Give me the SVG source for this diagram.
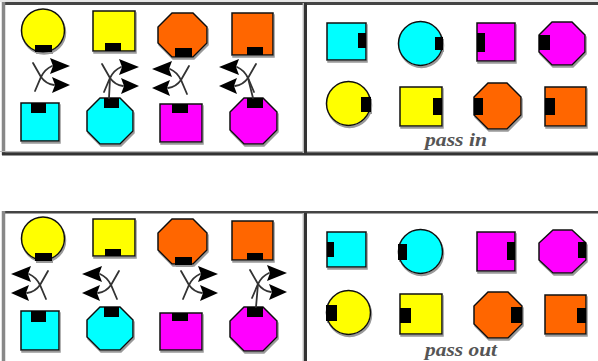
<svg xmlns="http://www.w3.org/2000/svg" width="598" height="361" viewBox="0 0 598 361">
<style>
.y{fill:#ffff00}.o{fill:#ff6600}.c{fill:#00ffff}.m{fill:#ff00ff}
.s{stroke:#111;stroke-width:1.5}
.tab{fill:#000}
.node{filter:url(#sh)}
.ln{fill:none;stroke:#333;stroke-width:1.8;stroke-linecap:round}
.ah{fill:#000}
.lbl{font-family:"Liberation Serif",serif;font-style:italic;font-weight:bold;font-size:19px;fill:#555}
</style>
<defs>
<filter id="sh" x="-20%" y="-20%" width="140%" height="140%">
<feDropShadow dx="1" dy="2" stdDeviation="0.4" flood-color="#999"/>
</filter>
<g id="split">
<path class="ln" d="M-8,-14 L0,0 Q5,7 13,8"/>
<path class="ln" d="M-6,14 L0,0 Q4,-8 11,-11"/>
<polygon class="ah" points="29,-11 9,-19 12,-11 9,-3"/>
<polygon class="ah" points="29,8 11,0 14,8 11,16"/>
</g>
</defs>
<rect width="598" height="361" fill="#fff"/>

<g id="frames">
<line x1="0" y1="1" x2="598" y2="1" stroke="#ccc" stroke-width="1"/>
<line x1="2" y1="3.5" x2="598" y2="3.5" stroke="#444" stroke-width="3"/>
<line x1="3.5" y1="2" x2="3.5" y2="155" stroke="#888" stroke-width="3.5"/>
<line x1="0" y1="151.5" x2="598" y2="151.5" stroke="#bbb" stroke-width="1"/>
<line x1="2" y1="153.8" x2="598" y2="153.8" stroke="#333" stroke-width="3.2"/>
<line x1="303.3" y1="3" x2="303.3" y2="153" stroke="#bbb" stroke-width="1.4"/>
<line x1="305.5" y1="3" x2="305.5" y2="154" stroke="#333" stroke-width="3"/>

<line x1="2" y1="212.2" x2="598" y2="212.2" stroke="#444" stroke-width="2.6"/>
<line x1="3.5" y1="211" x2="3.5" y2="361" stroke="#888" stroke-width="3.5"/>
<line x1="303.3" y1="213" x2="303.3" y2="361" stroke="#bbb" stroke-width="1.4"/>
<line x1="305.5" y1="213" x2="305.5" y2="361" stroke="#333" stroke-width="3"/>
</g>

<!-- top panel, left -->
<g id="tl-yellow-circle" class="node"><circle class="y s" cx="43" cy="30.5" r="21.5"/><rect class="tab" x="35" y="45" width="17" height="7"/></g>
<g id="tl-yellow-square" class="node"><rect class="y s" x="93" y="11" width="42" height="40"/><rect class="tab" x="105" y="43" width="16" height="8"/></g>
<g id="tl-orange-oct" class="node"><polygon class="o s" points="172,13 193,13 207,27 207,43 193,57 172,57 158,43 158,27"/><rect class="tab" x="175" y="48" width="17" height="9"/></g>
<g id="tl-orange-square" class="node"><rect class="o s" x="232" y="13" width="41" height="42"/><rect class="tab" x="247" y="47" width="16" height="8"/></g>
<g id="tl-cyan-square" class="node"><rect class="c s" x="21" y="103" width="38" height="38"/><rect class="tab" x="31" y="103" width="15" height="10"/></g>
<g id="tl-cyan-oct" class="node"><polygon class="c s" points="100,98 120,98 133,111 133,131 120,144 100,144 87,131 87,111"/><rect class="tab" x="104" y="98" width="15" height="10"/></g>
<g id="tl-magenta-square" class="node"><rect class="m s" x="160" y="104" width="42" height="38"/><rect class="tab" x="172" y="104" width="16" height="9"/></g>
<g id="tl-magenta-oct" class="node"><polygon class="m s" points="244,98 263,98 277,112 277,130 263,144 244,144 230,130 230,112"/><rect class="tab" x="247" y="98" width="16" height="10"/></g>

<!-- top panel, right -->
<g id="tr-cyan-square" class="node"><rect class="c s" x="327" y="23" width="39" height="37"/><rect class="tab" x="358" y="33" width="8" height="15"/></g>
<g id="tr-cyan-circle" class="node"><circle class="c s" cx="420.5" cy="43.5" r="22"/><rect class="tab" x="435" y="37" width="8" height="13"/></g>
<g id="tr-magenta-square" class="node"><rect class="m s" x="477" y="23" width="38" height="38"/><rect class="tab" x="477" y="33" width="8" height="19"/></g>
<g id="tr-magenta-oct" class="node"><polygon class="m s" points="552,22 572,22 585,35 585,52 572,65 552,65 539,52 539,35"/><rect class="tab" x="539" y="35" width="11" height="15"/></g>
<g id="tr-yellow-circle" class="node"><circle class="y s" cx="348.5" cy="103.5" r="22"/><rect class="tab" x="361" y="97" width="10" height="15"/></g>
<g id="tr-yellow-square" class="node"><rect class="y s" x="400" y="87" width="42" height="39"/><rect class="tab" x="433" y="98" width="9" height="17"/></g>
<g id="tr-orange-oct" class="node"><polygon class="o s" points="488,83 507,83 521,97 521,115 507,129 488,129 474,115 474,97"/><rect class="tab" x="474" y="98" width="9" height="17"/></g>
<g id="tr-orange-square" class="node"><rect class="o s" x="545" y="87" width="41" height="39"/><rect class="tab" x="545" y="98" width="10" height="17"/></g>
<text class="lbl" x="425" y="146" textLength="62" lengthAdjust="spacingAndGlyphs">pass in</text>

<!-- bottom panel, left -->
<g id="bl-yellow-circle" class="node"><circle class="y s" cx="43" cy="238.5" r="21.5"/><rect class="tab" x="35" y="253" width="17" height="8"/></g>
<g id="bl-yellow-square" class="node"><rect class="y s" x="93" y="219" width="42" height="37"/><rect class="tab" x="105" y="249" width="16" height="7"/></g>
<g id="bl-orange-oct" class="node"><polygon class="o s" points="172,219 193,219 207,233 207,250 193,264 172,264 158,250 158,233"/><rect class="tab" x="175" y="257" width="17" height="8"/></g>
<g id="bl-orange-square" class="node"><rect class="o s" x="232" y="221" width="41" height="39"/><rect class="tab" x="247" y="253" width="16" height="7"/></g>
<g id="bl-cyan-square" class="node"><rect class="c s" x="21" y="311" width="38" height="39"/><rect class="tab" x="31" y="311" width="15" height="11"/></g>
<g id="bl-cyan-oct" class="node"><polygon class="c s" points="100,307 120,307 133,320 133,337 120,350 100,350 87,337 87,320"/><rect class="tab" x="104" y="307" width="15" height="10"/></g>
<g id="bl-magenta-square" class="node"><rect class="m s" x="160" y="313" width="42" height="37"/><rect class="tab" x="172" y="313" width="16" height="8"/></g>
<g id="bl-magenta-oct" class="node"><polygon class="m s" points="244,307 263,307 277,321 277,337 263,351 244,351 230,337 230,321"/><rect class="tab" x="247" y="307" width="16" height="10"/></g>

<!-- bottom panel, right -->
<g id="br-cyan-square" class="node"><rect class="c s" x="327" y="232" width="39" height="35"/><rect class="tab" x="327" y="242" width="7" height="15"/></g>
<g id="br-cyan-circle" class="node"><circle class="c s" cx="420.5" cy="251.5" r="22"/><rect class="tab" x="398" y="244" width="9" height="16"/></g>
<g id="br-magenta-square" class="node"><rect class="m s" x="477" y="232" width="38" height="39"/><rect class="tab" x="507" y="242" width="8" height="18"/></g>
<g id="br-magenta-oct" class="node"><polygon class="m s" points="553,230 572,230 586,243 586,260 572,273 553,273 539,260 539,243"/><rect class="tab" x="578" y="242" width="8" height="16"/></g>
<g id="br-yellow-circle" class="node"><circle class="y s" cx="348.5" cy="312.5" r="22"/><rect class="tab" x="326" y="305" width="11" height="16"/></g>
<g id="br-yellow-square" class="node"><rect class="y s" x="400" y="294" width="42" height="40"/><rect class="tab" x="400" y="308" width="11" height="15"/></g>
<g id="br-orange-oct" class="node"><polygon class="o s" points="488,292 508,292 522,306 522,324 508,338 488,338 474,324 474,306"/><rect class="tab" x="511" y="307" width="11" height="16"/></g>
<g id="br-orange-square" class="node"><rect class="o s" x="545" y="295" width="41" height="39"/><rect class="tab" x="577" y="308" width="9" height="15"/></g>
<text class="lbl" x="425" y="356" textLength="72" lengthAdjust="spacingAndGlyphs">pass out</text>

<g id="connectors">
<use href="#split" transform="translate(41,77)"/>
<use href="#split" transform="translate(110,78)"/>
<line class="ln" x1="110" y1="78" x2="109" y2="98"/>
<use href="#split" transform="translate(181,80) scale(-1,1)"/>
<use href="#split" transform="translate(248,78) scale(-1,1)"/>
<line class="ln" x1="248" y1="78" x2="253" y2="98"/>
<use href="#split" transform="translate(40,285) scale(-1,1)"/>
<use href="#split" transform="translate(111,285) scale(-1,1)"/>
<use href="#split" transform="translate(189,285)"/>
<use href="#split" transform="translate(258,284)"/>
<line class="ln" x1="258" y1="284" x2="256" y2="307"/>
</g>
</svg>
